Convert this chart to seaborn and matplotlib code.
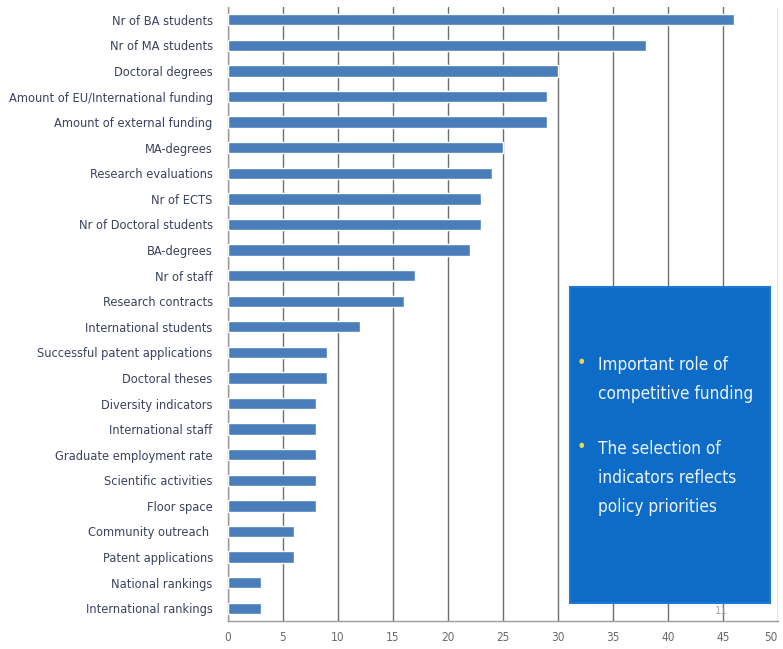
import matplotlib
matplotlib.use("Agg")
import matplotlib.pyplot as plt
from matplotlib.patches import Rectangle
import seaborn as sns
import pandas as pd
import numpy as np

indicators = [
    "Nr of BA students", "Nr of MA students", "Doctoral degrees",
    "Amount of EU/International funding", "Amount of external funding",
    "MA-degrees", "Research evaluations", "Nr of ECTS", "Nr of Doctoral students",
    "BA-degrees", "Nr of staff", "Research contracts", "International students",
    "Successful patent applications", "Doctoral theses", "Diversity indicators",
    "International staff", "Graduate employment rate", "Scientific activities",
    "Floor space", "Community outreach ", "Patent applications",
    "National rankings", "International rankings",
]
counts = [46, 38, 30, 29, 29, 25, 24, 23, 23, 22, 17, 16, 12,
          9, 9, 8, 8, 8, 8, 8, 6, 6, 3, 3]
x_ticks = [0, 5, 10, 15, 20, 25, 30, 35, 40, 45, 50]
bullets = ["Important role of\ncompetitive funding",
           "The selection of\nindicators reflects\npolicy priorities"]

df = pd.DataFrame({"indicator": indicators, "count": counts})

sns.set_theme(style="white")
plt.rcParams["font.family"] = ["DejaVu Sans"]
plt.rcParams["font.stretch"] = "condensed"

fig = plt.figure(figsize=(7.83, 6.49), dpi=100)
ax = fig.add_axes([228 / 783, 1 - 621 / 649, (778 - 228) / 783, (621 - 7) / 649])

sns.barplot(data=df, x="count", y="indicator", orient="h", color="#4a7ebb",
            saturation=1, width=0.44, ax=ax, zorder=3)

ax.set_xlim(0, 50)
ax.set_ylim(len(indicators) - 0.5, -0.5)
ax.set_xticks(x_ticks)
ax.set_xticklabels([str(t) for t in x_ticks], fontsize=8.5, color="#6a6a6a")
ax.get_xticklabels()[-1].set_horizontalalignment("right")
ax.tick_params(axis="y", labelsize=9.2, labelcolor="#3a4260", length=0, pad=11)
ax.set_yticks(np.arange(len(indicators)) - 0.5, minor=True)
ax.tick_params(axis="y", which="minor", length=3, color="#888888", width=0.8)
ax.tick_params(axis="x", length=4, color="#666666", width=1, pad=3)
ax.set_xlabel("")
ax.set_ylabel("")

ax.xaxis.grid(True, color="#6e6e6e", linewidth=1.0, zorder=0)
ax.yaxis.grid(False)
for side in ["top", "right"]:
    ax.spines[side].set_visible(False)
ax.spines["left"].set_color("#9a9a9a")
ax.spines["bottom"].set_color("#9a9a9a")
ax.spines["left"].set_linewidth(1)
ax.spines["bottom"].set_linewidth(1)

# Highlight panel with the two bullet points
box = Rectangle((570 / 783, 1 - 603 / 649), (770 - 570) / 783, (603 - 287) / 649,
                transform=fig.transFigure, facecolor="#0d6cc8", edgecolor="#1f78d1",
                linewidth=1.5, zorder=5)
fig.patches.append(box)

y_positions = [1 - 356 / 649, 1 - 440 / 649]
for y, txt in zip(y_positions, bullets):
    fig.text(579 / 783, y - 0.003, "\u25cf", color="#e8d84a", fontsize=5,
             va="top", ha="left", zorder=6)
    fig.text(598 / 783, y, txt, color="#eef3fb", fontsize=12.3,
             va="top", ha="left", linespacing=1.8, zorder=6)

fig.text(721 / 783, 1 - 611 / 649, "11", color="#9aa0a8", fontsize=8,
         ha="center", va="center", zorder=6)

fig.savefig("out.png", dpi=100, facecolor="white")
